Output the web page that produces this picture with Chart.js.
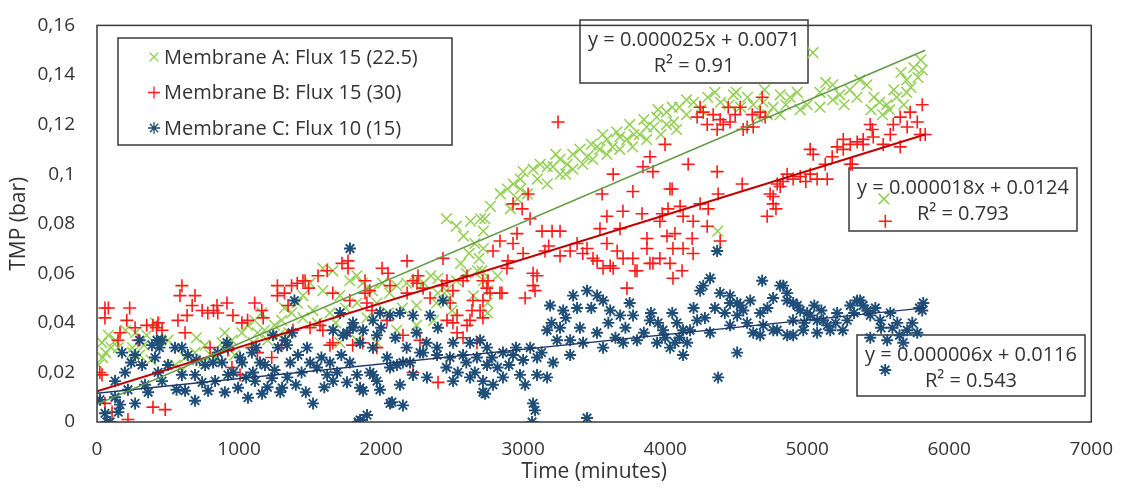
<!DOCTYPE html>
<html>
<head>
<meta charset="utf-8">
<script src="https://cdn.jsdelivr.net/npm/chart.js@4"></script>
<style>
  html, body { margin: 0; padding: 0; background: #fff; }
  #wrap { width: 1121px; height: 489px; }
</style>
</head>
<body>
<div id="wrap"><canvas id="tmp-chart" width="1121" height="489"></canvas></div>
<script>
// series names as in the legend
const seriesNames = ['Membrane A: Flux 15 (22.5)', 'Membrane B: Flux 15 (30)', 'Membrane C: Flux 10 (15)']

// [time (minutes), TMP (bar)]
const membraneA = [
  [10,0.023],[35,0.032],[40,0.026],[60,0.028],[80,0.035],[100,0.030],[130,0.033],[150,0.030],[200,0.037],[250,0.030],
  [250,0.028],[270,0.036],[300,0.027],[330,0.031],[350,0.035],[380,0.025],[410,0.040],[450,0.033],[500,0.033],[550,0.023],
  [600,0.021],[620,0.026],[690,0.028],[700,0.034],[750,0.024],[760,0.031],[800,0.027],[830,0.026],[880,0.032],[900,0.029],
  [900,0.036],[950,0.033],[970,0.027],[1020,0.036],[1060,0.039],[1100,0.032],[1110,0.041],[1130,0.036],[1160,0.044],
  [1180,0.037],[1200,0.033],[1250,0.039],[1280,0.035],[1300,0.041],[1320,0.046],[1350,0.036],[1370,0.044],[1410,0.048],
  [1450,0.051],[1450,0.042],[1500,0.056],[1520,0.045],[1550,0.040],[1590,0.062],[1590,0.053],[1640,0.044],[1660,0.061],
  [1680,0.040],[1710,0.051],[1710,0.032],[1750,0.046],[1780,0.057],[1830,0.059],[1830,0.048],[1830,0.033],[1870,0.056],
  [1900,0.042],[1940,0.053],[1970,0.048],[1970,0.032],[2010,0.056],[2050,0.044],[2060,0.052],[2110,0.055],[2110,0.037],
  [2150,0.046],[2180,0.056],[2250,0.057],[2250,0.047],[2250,0.039],[2300,0.056],[2350,0.059],[2370,0.041],[2390,0.048],
  [2400,0.058],[2400,0.052],[2460,0.082],[2460,0.053],[2480,0.050],[2500,0.045],[2530,0.079],[2530,0.057],[2560,0.064],
  [2580,0.075],[2600,0.060],[2620,0.068],[2630,0.081],[2650,0.051],[2660,0.072],[2680,0.061],[2690,0.066],[2700,0.082],
  [2720,0.077],[2720,0.057],[2720,0.070],[2710,0.061],[2750,0.053],[2750,0.048],[2750,0.044],[2820,0.059],[2730,0.082],
  [2770,0.087],[2840,0.092],[2890,0.094],[2910,0.086],[2930,0.096],[2960,0.090],[2980,0.094],[2980,0.098],[3000,0.101],
  [3030,0.092],[3070,0.102],[3100,0.098],[3120,0.104],[3170,0.096],[3170,0.103],[3210,0.103],[3230,0.108],[3260,0.100],
  [3260,0.106],[3300,0.100],[3310,0.104],[3350,0.102],[3350,0.108],[3400,0.110],[3420,0.104],[3450,0.107],[3480,0.112],
  [3490,0.106],[3520,0.111],[3540,0.110],[3560,0.116],[3590,0.108],[3590,0.114],[3630,0.111],[3660,0.117],[3680,0.110],
  [3680,0.115],[3730,0.114],[3750,0.120],[3770,0.111],[3780,0.116],[3820,0.116],[3850,0.122],[3870,0.114],[3870,0.119],
  [3920,0.119],[3940,0.123],[3950,0.126],[3970,0.116],[4010,0.120],[4010,0.125],[4050,0.127],[4060,0.121],[4080,0.118],
  [4100,0.127],[4150,0.124],[4150,0.130],[4200,0.129],[4250,0.126],[4300,0.131],[4350,0.133],[4370,0.077],[4390,0.129],
  [4450,0.128],[4480,0.132],[4500,0.133],[4530,0.127],[4580,0.131],[4620,0.128],[4650,0.123],[4690,0.129],[4700,0.134],
  [4720,0.124],[4760,0.127],[4810,0.132],[4810,0.124],[4850,0.128],[4880,0.131],[4930,0.133],[4950,0.126],[5000,0.128],
  [5040,0.149],[5090,0.133],[5090,0.127],[5130,0.137],[5180,0.136],[5180,0.130],[5230,0.132],[5260,0.128],[5300,0.134],
  [5350,0.131],[5370,0.138],[5420,0.136],[5450,0.126],[5470,0.131],[5510,0.129],[5530,0.124],[5540,0.090],[5560,0.128],
  [5580,0.126],[5610,0.134],[5630,0.131],[5660,0.141],[5680,0.128],[5700,0.138],[5700,0.133],[5730,0.135],[5750,0.143],
  [5780,0.139],[5800,0.146],[5810,0.142]
]

const membraneB = [
  [20,0.020],[35,0.019],[56,0.046],[56,0.042],[56,0.0075],[80,0.046],[106,0.004],[148,0.033],[162,0.036],[210,0.041],
  [218,0.001],[230,0.046],[268,0.038],[290,0.033],[350,0.039],[394,0.006],[394,0.039],[420,0.038],[430,0.040],[458,0.037],
  [480,0.005],[570,0.041],[584,0.051],[598,0.055],[620,0.036],[634,0.043],[670,0.047],[690,0.051],[740,0.045],[780,0.044],
  [796,0.030],[820,0.045],[850,0.044],[845,0.047],[915,0.048],[922,0.029],[950,0.022],[957,0.043],[1007,0.019],[1020,0.040],
  [1060,0.041],[1090,0.030],[1110,0.048],[1130,0.028],[1160,0.045],[1170,0.042],[1230,0.026],[1270,0.055],[1270,0.051],
  [1300,0.031],[1320,0.052],[1345,0.047],[1370,0.055],[1380,0.037],[1410,0.056],[1450,0.057],[1465,0.057],[1490,0.054],
  [1500,0.038],[1556,0.059],[1570,0.039],[1590,0.037],[1620,0.061],[1640,0.031],[1660,0.032],[1660,0.052],[1725,0.064],
  [1767,0.062],[1767,0.065],[1780,0.049],[1780,0.037],[1800,0.031],[1870,0.032],[1887,0.057],[1887,0.052],[1900,0.048],
  [1920,0.053],[1936,0.045],[1970,0.030],[2007,0.062],[2042,0.041],[2049,0.060],[2063,0.055],[2154,0.035],[2183,0.065],
  [2183,0.052],[2225,0.020],[2225,0.057],[2253,0.056],[2260,0.059],[2274,0.033],[2296,0.054],[2345,0.050],[2401,0.016],
  [2429,0.055],[2436,0.066],[2464,0.057],[2464,0.041],[2486,0.048],[2506,0.053],[2506,0.040],[2535,0.043],[2535,0.036],
  [2577,0.057],[2577,0.034],[2605,0.039],[2605,0.059],[2626,0.041],[2640,0.045],[2647,0.049],[2675,0.032],[2697,0.045],
  [2717,0.049],[2717,0.042],[2717,0.057],[2745,0.054],[2753,0.057],[2767,0.052],[2788,0.069],[2837,0.073],[2837,0.052],
  [2851,0.052],[2886,0.062],[2893,0.065],[2929,0.088],[2929,0.072],[2957,0.076],[2993,0.086],[3000,0.068],[3014,0.050],
  [3035,0.092],[3049,0.082],[3070,0.060],[3070,0.055],[3084,0.053],[3098,0.059],[3133,0.077],[3154,0.069],[3180,0.071],
  [3204,0.077],[3246,0.121],[3260,0.077],[3260,0.067],[3331,0.069],[3380,0.072],[3420,0.068],[3450,0.070],[3492,0.066],
  [3521,0.065],[3541,0.078],[3556,0.092],[3563,0.062],[3590,0.083],[3590,0.072],[3613,0.063],[3634,0.100],[3634,0.062],
  [3662,0.069],[3682,0.078],[3703,0.085],[3704,0.066],[3731,0.054],[3773,0.093],[3773,0.066],[3788,0.061],[3802,0.061],
  [3837,0.084],[3844,0.103],[3872,0.074],[3872,0.070],[3893,0.107],[3893,0.064],[3914,0.101],[3914,0.064],[3963,0.081],
  [3963,0.066],[3980,0.084],[3999,0.112],[4013,0.075],[4020,0.086],[4034,0.094],[4034,0.064],[4049,0.094],[4055,0.070],
  [4055,0.058],[4069,0.076],[4105,0.087],[4119,0.061],[4126,0.083],[4126,0.070],[4162,0.104],[4190,0.074],[4197,0.081],
  [4197,0.068],[4225,0.123],[4246,0.127],[4246,0.088],[4268,0.125],[4296,0.120],[4296,0.079],[4303,0.086],[4338,0.124],
  [4366,0.118],[4366,0.101],[4373,0.092],[4387,0.122],[4387,0.073],[4408,0.120],[4444,0.127],[4457,0.121],[4493,0.124],
  [4528,0.127],[4542,0.096],[4549,0.118],[4577,0.119],[4613,0.124],[4620,0.119],[4669,0.125],[4683,0.131],[4704,0.123],
  [4718,0.083],[4739,0.092],[4760,0.091],[4760,0.088],[4780,0.086],[4789,0.096],[4810,0.095],[4830,0.097],[4859,0.100],
  [4901,0.098],[4951,0.099],[4990,0.097],[5021,0.100],[5021,0.110],[5042,0.108],[5070,0.098],[5127,0.104],[5141,0.098],
  [5176,0.107],[5211,0.111],[5254,0.114],[5254,0.110],[5303,0.112],[5303,0.104],[5317,0.104],[5352,0.113],[5394,0.114],
  [5394,0.112],[5444,0.120],[5458,0.118],[5465,0.115],[5535,0.112],[5550,0.081],[5585,0.116],[5606,0.120],[5655,0.123],
  [5655,0.111],[5704,0.119],[5725,0.125],[5775,0.121],[5796,0.116],[5810,0.128],[5831,0.116]
]

const membraneC = [
  [21,0.009],[56,0.0035],[70,0.0],[92,0.0],[127,0.010],[127,0.0165],[150,0.004],[162,0.007],[176,0.028],[197,0.020],
  [218,0.013],[240,0.024],[268,0.0075],[268,0.027],[300,0.033],[317,0.023],[338,0.015],[360,0.012],[387,0.031],[408,0.026],
  [422,0.033],[430,0.020],[440,0.030],[458,0.033],[458,0.0165],[500,0.023],[549,0.030],[560,0.013],[598,0.030],[598,0.019],
  [620,0.0126],[640,0.027],[690,0.0086],[690,0.019],[700,0.025],[740,0.016],[761,0.023],[782,0.0126],[817,0.024],[831,0.0165],
  [850,0.028],[880,0.024],[900,0.012],[915,0.032],[922,0.019],[922,0.030],[960,0.020],[993,0.0138],[1007,0.026],[1021,0.024],
  [1050,0.018],[1063,0.0098],[1091,0.028],[1098,0.020],[1112,0.0165],[1120,0.030],[1148,0.024],[1162,0.0114],[1183,0.023],
  [1200,0.014],[1232,0.0177],[1239,0.035],[1250,0.021],[1274,0.030],[1290,0.012],[1303,0.0138],[1324,0.033],[1338,0.031],
  [1340,0.018],[1360,0.024],[1373,0.036],[1390,0.049],[1400,0.015],[1415,0.027],[1440,0.020],[1470,0.012],[1479,0.030],
  [1500,0.024],[1521,0.0075],[1549,0.022],[1580,0.026],[1600,0.014],[1620,0.019],[1640,0.024],[1662,0.0165],[1662,0.037],
  [1690,0.020],[1711,0.044],[1720,0.027],[1732,0.035],[1760,0.036],[1760,0.016],[1780,0.024],[1781,0.070],[1802,0.038],
  [1802,0.040],[1831,0.019],[1838,0.0],[1852,0.0008],[1852,0.0138],[1852,0.032],[1873,0.037],[1873,0.0126],[1901,0.0028],
  [1922,0.020],[1943,0.030],[1943,0.041],[1943,0.019],[1971,0.035],[1971,0.0165],[1992,0.044],[1992,0.013],[2000,0.038],
  [2042,0.026],[2063,0.043],[2063,0.022],[2063,0.0075],[2077,0.008],[2100,0.034],[2112,0.023],[2133,0.044],[2133,0.015],
  [2154,0.0067],[2154,0.024],[2180,0.030],[2204,0.024],[2225,0.043],[2225,0.019],[2250,0.036],[2274,0.028],[2296,0.028],
  [2320,0.032],[2323,0.018],[2345,0.043],[2394,0.027],[2394,0.030],[2400,0.038],[2436,0.049],[2460,0.022],[2485,0.026],
  [2507,0.032],[2507,0.0165],[2540,0.020],[2577,0.027],[2600,0.024],[2626,0.018],[2626,0.032],[2660,0.020],[2675,0.026],
  [2697,0.033],[2717,0.0165],[2717,0.012],[2732,0.0114],[2746,0.023],[2746,0.030],[2780,0.026],[2788,0.015],[2820,0.022],
  [2858,0.028],[2858,0.018],[2900,0.023],[2929,0.027],[2950,0.030],[2978,0.019],[3000,0.025],[3014,0.015],[3050,0.030],
  [3063,0.0],[3070,0.0075],[3084,0.0047],[3098,0.026],[3098,0.019],[3130,0.028],[3169,0.037],[3169,0.018],[3190,0.047],
  [3200,0.040],[3211,0.024],[3239,0.033],[3260,0.038],[3282,0.045],[3300,0.042],[3331,0.033],[3331,0.027],[3352,0.051],
  [3380,0.046],[3400,0.038],[3422,0.032],[3450,0.053],[3450,0.0016],[3480,0.046],[3520,0.036],[3521,0.051],[3563,0.049],
  [3563,0.030],[3600,0.040],[3613,0.045],[3650,0.034],[3683,0.043],[3704,0.032],[3720,0.038],[3750,0.048],[3774,0.043],
  [3802,0.033],[3850,0.036],[3893,0.041],[3900,0.044],[3943,0.032],[3950,0.040],[3985,0.037],[4000,0.034],[4035,0.030],
  [4050,0.044],[4069,0.032],[4083,0.040],[4100,0.034],[4126,0.037],[4126,0.027],[4155,0.032],[4175,0.037],[4200,0.046],
  [4225,0.041],[4246,0.053],[4268,0.055],[4280,0.042],[4316,0.058],[4316,0.036],[4350,0.046],[4366,0.069],[4373,0.018],
  [4387,0.052],[4420,0.044],[4457,0.048],[4457,0.051],[4457,0.039],[4507,0.048],[4507,0.028],[4507,0.043],[4528,0.047],
  [4550,0.045],[4577,0.040],[4599,0.049],[4620,0.036],[4669,0.044],[4669,0.035],[4683,0.057],[4690,0.039],[4720,0.046],
  [4760,0.050],[4761,0.037],[4789,0.037],[4810,0.055],[4831,0.055],[4859,0.052],[4859,0.049],[4859,0.035],[4900,0.041],
  [4901,0.048],[4901,0.035],[4930,0.047],[4951,0.045],[4972,0.037],[4980,0.040],[5000,0.044],[5021,0.043],[5050,0.047],
  [5070,0.041],[5070,0.036],[5100,0.045],[5113,0.041],[5141,0.039],[5162,0.037],[5200,0.040],[5211,0.044],[5250,0.037],
  [5282,0.041],[5303,0.047],[5330,0.044],[5352,0.049],[5373,0.049],[5394,0.047],[5422,0.045],[5444,0.043],[5444,0.034],
  [5480,0.046],[5514,0.041],[5520,0.038],[5549,0.021],[5563,0.033],[5585,0.044],[5600,0.038],[5634,0.040],[5650,0.035],
  [5676,0.032],[5704,0.037],[5740,0.040],[5775,0.036],[5790,0.046],[5810,0.045],[5817,0.048]
]

// linear trendlines: start/end time and TMP at those ends
const trendTime = [0, 5830]
const trendA = [0.0071, 0.150]
const trendB = [0.0124, 0.116]
const trendC = [0.0116, 0.046]

const trendLabels = [
  ['y = 0.000025x + 0.0071', 'R² = 0.91'],
  ['y = 0.000018x + 0.0124', 'R² = 0.793'],
  ['y = 0.000006x + 0.0116', 'R² = 0.543']
]

const yTicks = [0, 0.02, 0.04, 0.06, 0.08, 0.1, 0.12, 0.14, 0.16]

const font_family = "'Open Sans', 'Noto Sans', sans-serif"
const colors = {
  a: '#92D050', b: '#FF1A1A', c: '#1F4E79',
  a_line: '#649A48', b_line: '#C00000', c_line: '#1F3864',
  text: '#333333', frame: '#3A3A3A'
}

const toXY = (arr) => arr.map((p) => ({ x: p[0], y: p[1] }))
const trend = (ys) => trendTime.map((t, i) => ({ x: t, y: ys[i] }))

const pointStyles = ['crossRot', 'cross', 'star']
const pointColors = [colors.a, colors.b, colors.c]
const pointRadii = [7.5, 6.5, 6]
const pointWidths = [1.5, 1.6, 1.9]

// boxes drawn on top of the plot (legend + equations), in canvas pixels
const legendBox = { x: 118, y: 38, w: 334, h: 107 }
const eqBoxes = [
  { x: 580, y: 20, w: 228, h: 63 },
  { x: 849, y: 168, w: 228, h: 63 },
  { x: 857, y: 335, w: 228, h: 61 }
]

const boxesPlugin = {
  id: 'boxes',
  beforeDatasetsDraw(chart) {
    const ctx = chart.ctx
    ctx.save()
    ctx.font = '20px ' + font_family
    ctx.textBaseline = 'middle'

    // legend
    ctx.fillStyle = '#fff'
    ctx.strokeStyle = colors.frame
    ctx.lineWidth = 1.5
    ctx.fillRect(legendBox.x, legendBox.y, legendBox.w, legendBox.h)
    ctx.strokeRect(legendBox.x, legendBox.y, legendBox.w, legendBox.h)
    seriesNames.forEach(function(name, i) {
      const cy = legendBox.y + 19 + i * 35.5
      ctx.strokeStyle = pointColors[i]
      ctx.fillStyle = pointColors[i]
      ctx.lineWidth = 1.3
      Chart.helpers.drawPoint(ctx, { pointStyle: pointStyles[i], radius: 6, borderWidth: 1.3 }, 154, cy)
      ctx.fillStyle = colors.text
      ctx.textAlign = 'left'
      ctx.fillText(name, 164, cy + 1)
    })

    // trendline equations
    eqBoxes.forEach(function(b, i) {
      ctx.fillStyle = '#fff'
      ctx.strokeStyle = colors.frame
      ctx.lineWidth = 1.5
      ctx.fillRect(b.x, b.y, b.w, b.h)
      ctx.strokeRect(b.x, b.y, b.w, b.h)
      ctx.fillStyle = colors.text
      ctx.textAlign = 'center'
      ctx.fillText(trendLabels[i][0], b.x + b.w / 2, b.y + 20)
      ctx.fillText(trendLabels[i][1], b.x + b.w / 2, b.y + 46)
    })
    ctx.restore()
  },
  afterDraw(chart) {
    const a = chart.chartArea
    const ctx = chart.ctx
    ctx.save()
    ctx.strokeStyle = colors.frame
    ctx.lineWidth = 1.5
    ctx.strokeRect(a.left, a.top, a.right - a.left, a.bottom - a.top)
    ctx.restore()
  }
}

const pointSet = (label, data, i, order) => ({
  type: 'scatter',
  label: label,
  data: toXY(data),
  pointStyle: pointStyles[i],
  pointRadius: pointRadii[i],
  pointBorderColor: pointColors[i],
  pointBackgroundColor: pointColors[i],
  pointBorderWidth: pointWidths[i],
  showLine: false,
  order: order
})

const lineSet = (ys, color, width) => ({
  type: 'line',
  data: trend(ys),
  borderColor: color,
  borderWidth: width,
  pointRadius: 0,
  fill: false,
  order: -1
})

new Chart(document.getElementById('tmp-chart').getContext('2d'), {
  data: {
    datasets: [
      pointSet(seriesNames[0], membraneA, 0, 3),
      pointSet(seriesNames[1], membraneB, 1, 2),
      pointSet(seriesNames[2], membraneC, 2, 1),
      lineSet(trendA, colors.a_line, 1.5),
      lineSet(trendB, colors.b_line, 2),
      lineSet(trendC, colors.c_line, 1.3)
    ]
  },
  options: {
    responsive: false,
    animation: false,
    layout: { padding: { top: 15, right: 29, left: 0, bottom: 0 } },
    plugins: {
      legend: { display: false },
      tooltip: { enabled: false }
    },
    scales: {
      x: {
        type: 'linear',
        min: 0,
        max: 7000,
        grid: { display: false },
        border: { display: false },
        ticks: {
          stepSize: 1000,
          color: colors.text,
          font: { family: font_family, size: 19 },
          padding: 8,
          callback: (v) => String(v)
        },
        title: {
          display: true,
          text: 'Time (minutes)',
          color: colors.text,
          font: { family: font_family, size: 21 },
          padding: { top: 0, bottom: 4 }
        },
        afterFit(scale) { scale.height = 67 }
      },
      y: {
        type: 'linear',
        min: 0,
        max: 0.16,
        grid: { display: false },
        border: { display: false },
        afterBuildTicks(scale) { scale.ticks = yTicks.map((v) => ({ value: v })) },
        ticks: {
          color: colors.text,
          font: { family: font_family, size: 19 },
          padding: 14,
          callback: (v) => String(Number(v.toFixed(2))).replace('.', ',')
        },
        title: {
          display: true,
          text: 'TMP (bar)',
          color: colors.text,
          font: { family: font_family, size: 21 },
          padding: { top: 6, bottom: 0 }
        },
        afterFit(scale) { scale.width = 97 }
      }
    }
  },
  plugins: [boxesPlugin]
})
</script>
</body>
</html>
